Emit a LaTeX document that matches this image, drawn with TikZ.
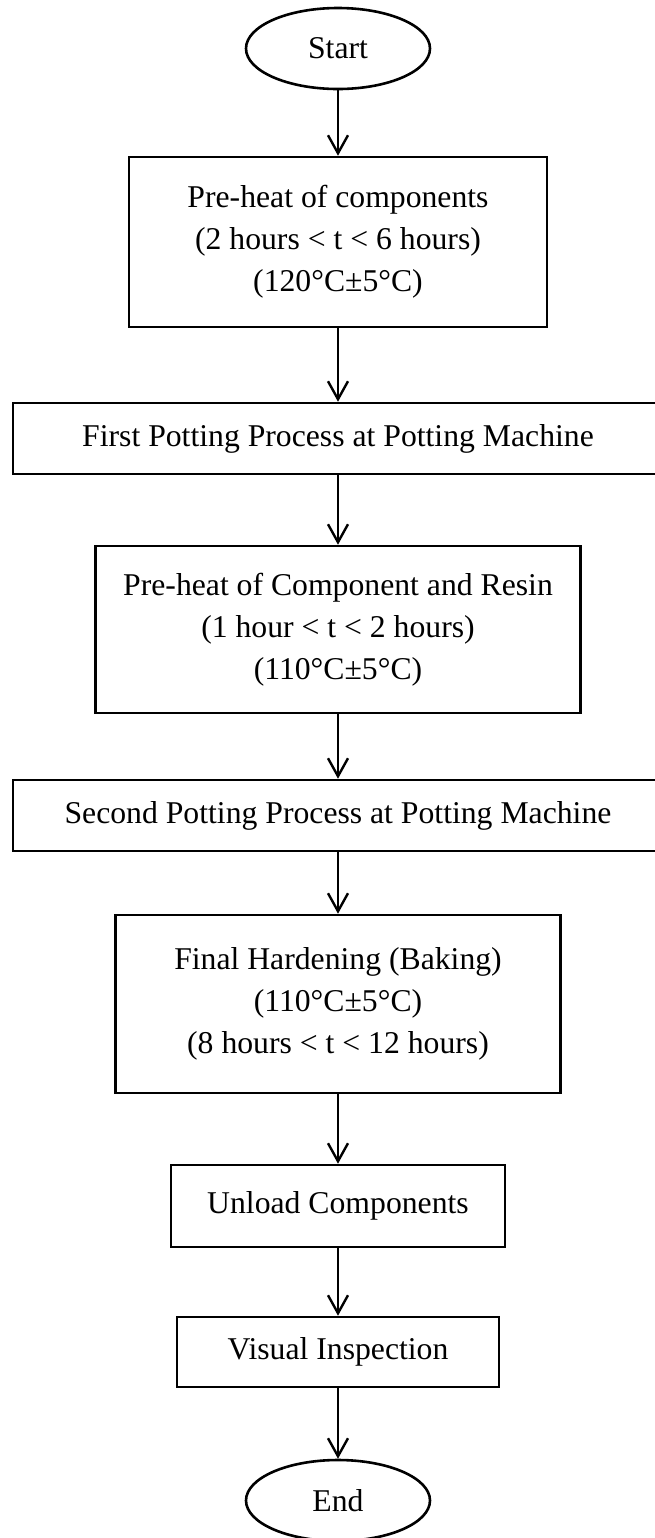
\documentclass[tikz,border=0pt]{standalone}
\usepackage{fontspec}
\setmainfont{Liberation Serif}
\usetikzlibrary{shapes.geometric,arrows.meta}
\begin{document}
\begin{tikzpicture}[x=0.5pt,y=-0.5pt,
  every node/.style={font=\fontsize{15.85}{21}\selectfont, inner sep=0pt},
  procbox/.style={draw, rectangle, line width=1.3pt, align=center},
  terminal/.style={draw, ellipse, line width=1.3pt, minimum width=92pt, minimum height=40.5pt},
  flow/.style={line width=1.2pt, -{Straight Barb[length=9pt,width=10pt]}}]
  % page frame
  \fill[white] (0,0) rectangle (654,1538);
  \useasboundingbox (0,0) rectangle (654,1538);

  % process steps
  \node[terminal] (start) at (338,48.5) {Start};
  \node[procbox, minimum width=209pt, minimum height=85pt] (preheat) at (338,242)
    {Pre-heat of components\\(2 hours < t < 6 hours)\\(120°C±5°C)};
  \node[procbox, minimum width=325pt, minimum height=35.5pt] (pot1) at (338,438.5)
    {First Potting Process at Potting Machine};
  \node[procbox, minimum width=242.5pt, minimum height=83.5pt] (preheat2) at (338,629.5)
    {Pre-heat of Component and Resin\\(1 hour < t < 2 hours)\\(110°C±5°C)};
  \node[procbox, minimum width=325pt, minimum height=35.5pt] (pot2) at (338,815.5)
    {Second Potting Process at Potting Machine};
  \node[procbox, minimum width=222.5pt, minimum height=89pt] (bake) at (338,1004)
    {Final Hardening (Baking)\\(110°C±5°C)\\(8 hours < t < 12 hours)};
  \node[procbox, minimum width=167pt, minimum height=41pt] (unload) at (338,1206)
    {Unload Components};
  \node[procbox, minimum width=161pt, minimum height=35pt] (inspect) at (338,1352)
    {Visual Inspection};
  \node[terminal] (finish) at (338,1500.5) {End};

  % connectors
  \draw[flow] (start.south) -- (preheat.north);
  \draw[flow] (preheat.south) -- (pot1.north);
  \draw[flow] (pot1.south) -- (preheat2.north);
  \draw[flow] (preheat2.south) -- (pot2.north);
  \draw[flow] (pot2.south) -- (bake.north);
  \draw[flow] (bake.south) -- (unload.north);
  \draw[flow] (unload.south) -- (inspect.north);
  \draw[flow] (inspect.south) -- (finish.north);
\end{tikzpicture}
\end{document}
